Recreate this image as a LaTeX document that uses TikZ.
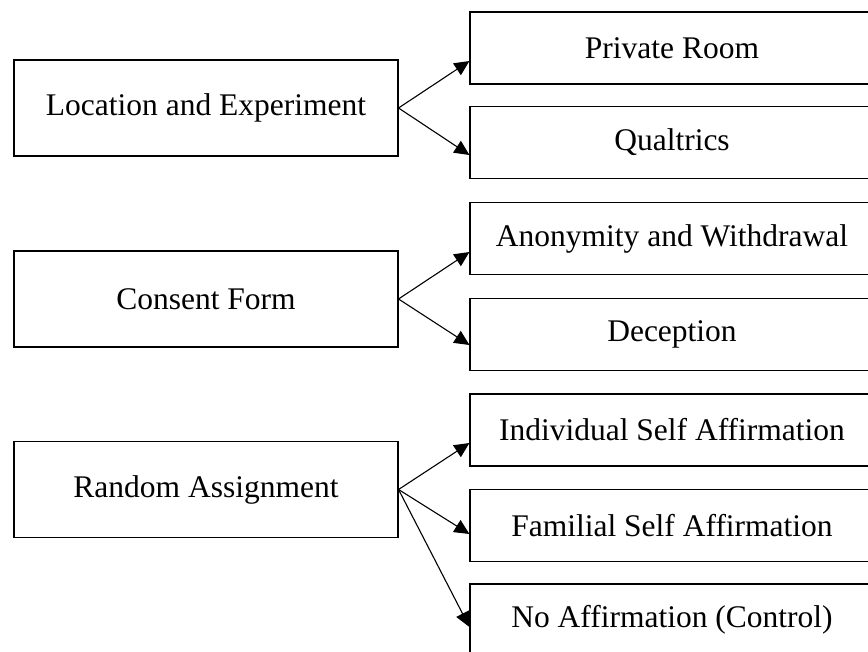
\documentclass[tikz,border=0pt]{standalone}
\usepackage{fontspec}
\setmainfont{Liberation Serif}
\usetikzlibrary{arrows.meta}
\begin{document}
\begin{tikzpicture}[x=1pt,y=-1pt,
  box/.style={draw=black, line width=1.1pt, inner sep=0pt, align=center,
    font=\fontsize{31.5}{36}\selectfont},
  lbox/.style={box, minimum width=384pt, minimum height=96pt},
  rbox/.style={box, minimum width=404pt, minimum height=72pt},
  link/.style={line width=1.1pt, -{Triangle[length=15pt,width=14pt]}}]
\useasboundingbox (0,0) rectangle (868,651);
\clip (0,0) rectangle (868,651);

% stages on the left
\node[lbox] (loc)  at (206,108)   {Location and Experiment};
\node[lbox] (cons) at (206,299)   {Consent Form};
\node[lbox] (rand) at (206,489.5) {Random Assignment};

% details on the right (boxes run past the right margin)
\node[rbox] (room)  at (672,48)    {Private Room};
\node[rbox] (qual)  at (672,142.5) {Qualtrics};
\node[rbox] (anon)  at (672,238.5) {Anonymity and Withdrawal};
\node[rbox] (dec)   at (672,334.5) {Deception};
\node[rbox] (indiv) at (672,430)   {Individual Self Affirmation};
\node[rbox] (fam)   at (672,525.5) {Familial Self Affirmation};
\node[rbox] (noaff) at (672,620)   {No Affirmation (Control)};

% connectors, each ending a little below the middle of its target's left side
\draw[link] (loc.east)  -- ([yshift=-13pt]room.west);
\draw[link] (loc.east)  -- ([yshift=-12.5pt]qual.west);
\draw[link] (cons.east) -- ([yshift=-13.5pt]anon.west);
\draw[link] (cons.east) -- ([yshift=-10.5pt]dec.west);
\draw[link] (rand.east) -- ([yshift=-13pt]indiv.west);
\draw[link] (rand.east) -- ([yshift=-8.5pt]fam.west);
\draw[link] (rand.east) -- ([yshift=-7pt]noaff.west);
\end{tikzpicture}
\end{document}
